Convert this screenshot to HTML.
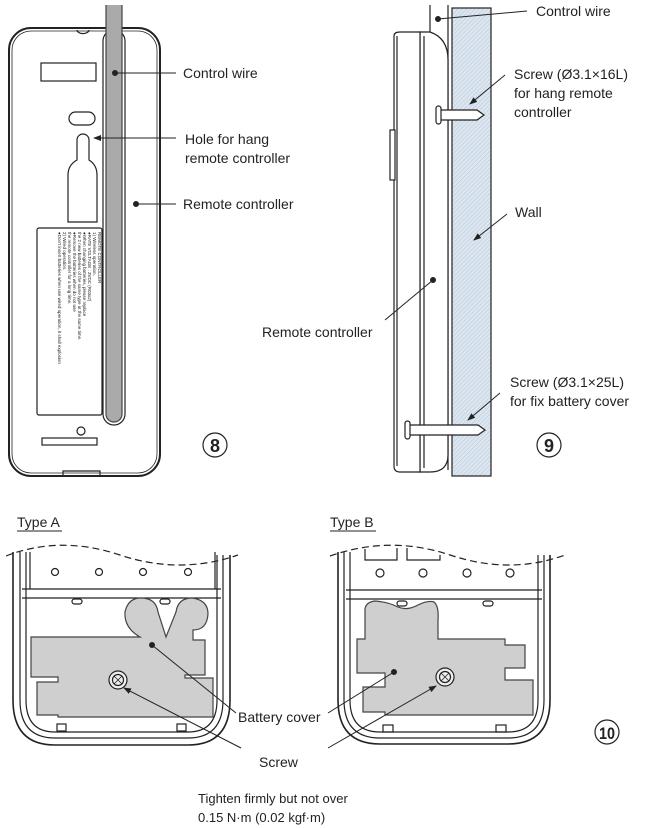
<!DOCTYPE html>
<html><head><meta charset="utf-8"><style>
html,body{margin:0;padding:0;background:#fff}
svg{display:block}
text{font-family:"Liberation Sans",sans-serif;fill:#222}
</style></head><body>
<svg width="646" height="828" viewBox="0 0 646 828" xmlns="http://www.w3.org/2000/svg">
<defs>
<pattern id="h" width="3" height="3" patternUnits="userSpaceOnUse" patternTransform="rotate(45)">
<rect width="3" height="3" fill="#dce6f0"/><line x1="0" y1="0" x2="0" y2="3" stroke="#b8c6d6" stroke-width="1"/>
</pattern>
<marker id="a" markerWidth="8" markerHeight="8" refX="7" refY="4" orient="auto" markerUnits="userSpaceOnUse"><path d="M0,1 L8,4 L0,7z" fill="#222"/></marker>
</defs>
<g fill="none" stroke="#222" stroke-width="1.2">
<!-- Panel 8 -->
<rect x="9" y="28" width="151" height="448" rx="22" stroke-width="2"/>
<rect x="12" y="31" width="145" height="442" rx="19" stroke-width="0.8"/>
<path d="M77,30 a5,3 0 0 0 12,0"/>
<rect x="41" y="63" width="55" height="18"/>
<rect x="69" y="112" width="26" height="13" rx="6.5"/>
<path d="M77,160 V140 a6,6 0 0 1 12,0 V160 Q97,165 97,175 V222 H68 V175 Q68,165 77,160z"/>
<rect x="37" y="228" width="65" height="187" rx="2"/>
<rect x="103" y="30" width="22" height="395" rx="11"/>
<path d="M106,5 V414 a8,8 0 0 0 16,0 V5" fill="#aaa" stroke="#444"/>
<circle cx="81" cy="431" r="4"/>
<rect x="42" y="438" width="55" height="7"/>
<path d="M63,476 V471 H100 V476"/>
</g>
<g font-size="4.5" transform="translate(98,232) rotate(90)" fill="#444">
<text x="0" y="0">REMOTE CONTROLLER</text>
<text x="0" y="5">1) Wireless operation.</text>
<text x="0" y="10">●RATE VOLTAGE : 3VDC (R03x2)</text>
<text x="0" y="15">●When changing batteries, please replace</text>
<text x="0" y="20"> the 2 new batteries of the same type at the same time.</text>
<text x="0" y="25">●Remove the batteries when do not use</text>
<text x="0" y="30"> the remote controller for a long time.</text>
<text x="0" y="35">2) Wired operation.</text>
<text x="0" y="40">●Don't insert batteries when use wired operation, it shall explosion</text>
</g>
<g stroke="#222" stroke-width="1">
<line x1="115" y1="73" x2="176" y2="73"/><circle cx="115" cy="73" r="2.5" fill="#222"/>
<line x1="176" y1="138" x2="94" y2="138" marker-end="url(#a)"/>
<line x1="136" y1="204" x2="176" y2="204"/><circle cx="136" cy="204" r="2.5" fill="#222"/>
</g>
<text x="183" y="78" font-size="14">Control wire</text>
<text x="185" y="144" font-size="14">Hole for hang</text>
<text x="185" y="163" font-size="14">remote controller</text>
<text x="183" y="209" font-size="14">Remote controller</text>
<circle cx="215" cy="445" r="12" fill="none" stroke="#222" stroke-width="1.2"/>
<text x="215" y="452" font-size="18" font-weight="bold" text-anchor="middle">8</text>

<!-- Panel 9 -->
<rect x="452" y="8" width="39" height="468" fill="url(#h)" stroke="#222" stroke-width="1.2"/>
<g fill="#fff" stroke="#222" stroke-width="1.2">
<path d="M430,5 V40 M448,5 V470" fill="none"/>
<path d="M420,32 H430 Q448,38 448,60 V455 Q448,472 430,472 H420z"/>
<path d="M394,36 Q394,32 400,32 H420 V472 H400 Q394,472 394,466z"/>
<line x1="397" y1="36" x2="397" y2="466"/>
<line x1="424" y1="36" x2="424" y2="468"/>
<rect x="390" y="130" width="5" height="50" fill="#fff"/>
<path d="M440,110 H477 L484,115 L477,120 H440" />
<rect x="436" y="106" width="5" height="18" rx="2.5"/>
<path d="M408,425 H478 L485,430 L478,435 H408"/>
<rect x="405" y="421" width="5" height="18" rx="2.5"/>
</g>
<g stroke="#222" stroke-width="1">
<line x1="438" y1="19" x2="527" y2="11"/><circle cx="438" cy="19" r="2.5" fill="#222"/>
<line x1="505" y1="75" x2="470" y2="104" marker-end="url(#a)"/>
<line x1="507" y1="214" x2="474" y2="240" marker-end="url(#a)"/>
<line x1="433" y1="280" x2="385" y2="320"/><circle cx="433" cy="280" r="2.5" fill="#222"/>
<line x1="500" y1="393" x2="468" y2="420" marker-end="url(#a)"/>
</g>
<text x="536" y="16" font-size="14">Control wire</text>
<text x="514" y="79" font-size="14">Screw (Ø3.1×16L)</text>
<text x="514" y="98" font-size="14">for hang remote</text>
<text x="514" y="117" font-size="14">controller</text>
<text x="515" y="217" font-size="14">Wall</text>
<text x="262" y="337" font-size="14">Remote controller</text>
<text x="510" y="387" font-size="14">Screw (Ø3.1×25L)</text>
<text x="510" y="406" font-size="14">for fix battery cover</text>
<circle cx="549" cy="445" r="12" fill="none" stroke="#222" stroke-width="1.2"/>
<text x="549" y="452" font-size="18" font-weight="bold" text-anchor="middle">9</text>

<!-- Panel 10 -->
<text x="17" y="527" font-size="14">Type A</text><line x1="17" y1="531" x2="62" y2="531" stroke="#222"/>
<text x="330" y="527" font-size="14">Type B</text><line x1="330" y1="531" x2="376" y2="531" stroke="#222"/>
<g fill="none" stroke="#222" stroke-width="1.2">
<!-- Type A -->
<path d="M6,556 Q60,535 120,555 T238,555" stroke-dasharray="7,4"/>
<path d="M13,552 V700 Q13,745 55,745 H188 Q230,745 230,700 V555" stroke-width="1.6"/>
<path d="M20,552 V700 Q20,738 55,738 H188 Q223,738 223,700 V555"/>
<path d="M26,552 V700 Q26,732 55,732 H188 Q217,732 217,700 V555"/>
<path d="M30,552 V589 M215,552 V589"/>
<line x1="22" y1="589" x2="221" y2="589"/><line x1="22" y1="598" x2="221" y2="598"/>
<circle cx="55" cy="572" r="3.5"/><circle cx="99" cy="572" r="3.5"/><circle cx="143" cy="572" r="3.5"/><circle cx="188" cy="572" r="3.5"/>
<rect x="72" y="599" width="10" height="5" rx="2.5"/><rect x="160" y="599" width="10" height="5" rx="2.5"/>
<rect x="57" y="724" width="9" height="7"/><rect x="177" y="724" width="9" height="7"/>
<path d="M31,637 H140 Q124,628 125,612 Q128,598 141,598 Q156,598 158,612 L166,637 L176,612 Q178,598 192,598 Q208,600 208,614 Q207,630 193,630 V640 H205 V675 H185 V678 H213 V717 H58 V715 H37 V682 H58 V677 H31z" fill="#cfcfcf" stroke="#444"/>
<circle cx="118" cy="680" r="9" fill="#eee"/><circle cx="118" cy="680" r="5.5"/>
<path d="M114,676 L122,684 M122,676 L114,684" stroke-width="0.8"/>
<!-- Type B -->
<path d="M330,556 Q390,535 450,555 T565,555" stroke-dasharray="7,4"/>
<path d="M338,552 V700 Q338,744 380,744 H508 Q550,744 550,700 V555" stroke-width="1.6"/>
<path d="M344,552 V700 Q344,738 380,738 H508 Q544,738 544,700 V555"/>
<path d="M350,552 V700 Q350,732 380,732 H508 Q538,732 538,700 V555"/>
<path d="M365,549 V560 H397 V548 M407,548 V560 H440 V555"/>
<line x1="346" y1="590" x2="542" y2="590"/><line x1="346" y1="599" x2="542" y2="599"/>
<circle cx="380" cy="573" r="4"/><circle cx="423" cy="573" r="4"/><circle cx="467" cy="573" r="4"/><circle cx="510" cy="573" r="4"/>
<rect x="397" y="601" width="10" height="5" rx="2.5"/><rect x="483" y="601" width="10" height="5" rx="2.5"/>
<rect x="383" y="725" width="10" height="7"/><rect x="496" y="725" width="10" height="7"/>
<path d="M365,609 Q366,602 375,601 Q388,602 398,607 Q407,611 418,605 Q428,600 434,602 Q439,606 438,620 V639 H505 V645 H525 V668 H505 V680 H533 V715 H385 V712 H363 V687 H385 V673 H357 V639 H365z" fill="#cfcfcf" stroke="#444"/>
<circle cx="445" cy="677" r="9" fill="#eee"/><circle cx="445" cy="677" r="5.5"/>
<path d="M441,673 L449,681 M449,673 L441,681" stroke-width="0.8"/>
</g>
<g stroke="#222" stroke-width="1">
<circle cx="152" cy="645" r="2.5" fill="#222"/><line x1="152" y1="645" x2="236" y2="713"/>
<circle cx="394" cy="672" r="2.5" fill="#222"/><line x1="394" y1="672" x2="328" y2="713"/>
<line x1="241" y1="748" x2="124" y2="688" marker-end="url(#a)"/>
<line x1="328" y1="748" x2="436" y2="686" marker-end="url(#a)"/>
</g>
<text x="238" y="722" font-size="14">Battery cover</text>
<text x="259" y="767" font-size="14">Screw</text>
<circle cx="607" cy="732" r="12" fill="none" stroke="#222" stroke-width="1.2"/>
<text x="607" y="739" font-size="17" font-weight="bold" text-anchor="middle" textLength="16" lengthAdjust="spacingAndGlyphs">10</text>
<text x="198" y="803" font-size="13">Tighten firmly but not over</text>
<text x="198" y="822" font-size="13">0.15 N·m (0.02 kgf·m)</text>
</svg>
</body></html>
